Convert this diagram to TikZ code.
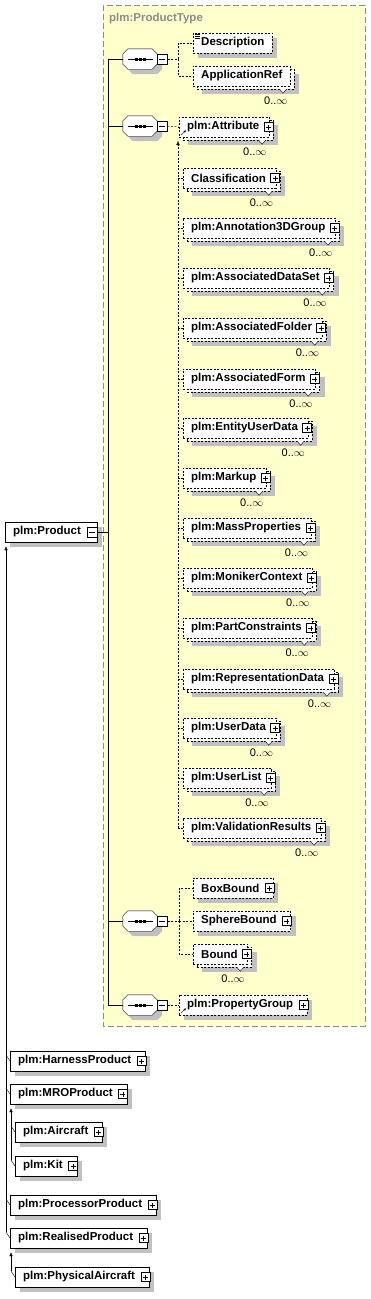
\documentclass[tikz,border=0pt]{standalone}
\usepackage{fontspec}
\setmainfont{Liberation Sans}
\usetikzlibrary{arrows.meta,positioning,shadows}
\definecolor{typebg}{HTML}{FFFFCC}
\definecolor{shade}{HTML}{C0C0C0}
\definecolor{typeline}{HTML}{8C8C8C}
\begin{document}
\begin{tikzpicture}[x=1pt,y=-1pt,font=\fontsize{11.5}{13}\selectfont,
 dsh/.style={dash pattern=on 2pt off 1.5pt},
 elbase/.style={draw,dsh,fill=white,font=\fontsize{11.5}{13}\selectfont\bfseries,anchor=west,inner xsep=8pt,inner ysep=0pt,minimum height=20pt},
 sh/.style={drop shadow={shadow xshift=5pt,shadow yshift=-5pt,fill=shade,opacity=1}},
 el/.style={elbase,sh},
 typ/.style={el,solid},
 pbox/.style={draw,solid,fill=white,minimum size=9pt,inner sep=0pt,
   path picture={\draw ([xshift=2pt]path picture bounding box.west) -- ([xshift=-2pt]path picture bounding box.east)
     ([yshift=-2pt]path picture bounding box.north) -- ([yshift=2pt]path picture bounding box.south);}},
 mbox/.style={draw,solid,fill=white,minimum size=10pt,inner sep=0pt,
   path picture={\draw ([xshift=2pt]path picture bounding box.west) -- ([xshift=-2pt]path picture bounding box.east);}},
 seqn/.style={minimum width=34pt,minimum height=20pt,inner sep=0pt},
 mult/.style={font=\fontsize{11}{12}\selectfont,inner sep=0pt},
 der/.style={-{Latex[length=4pt,width=3.5pt]}}]
\useasboundingbox (0,0) rectangle (371,1299);
% type area
\draw[typeline,fill=typebg,dash pattern=on 6pt off 3pt] (103,5) rectangle (365,1026);
\node[font=\fontsize{11.5}{13}\selectfont\bfseries,text=typeline,anchor=west,inner sep=0pt] (ttl) at (109,19) {plm:ProductType};
% sequences
\node[seqn] (s1) at (140,59) {};
\node[seqn] (s2) at (140,126) {};
\node[seqn] (s3) at (140,921) {};
\node[seqn] (s4) at (140,1005) {};
\foreach \s in {s1,s2,s3,s4}{
  \draw[fill=white,sh] ([xshift=5pt]\s.north west) -- ([xshift=-5pt]\s.north east) -- ([yshift=-5pt]\s.north east)
    -- ([yshift=5pt]\s.south east) -- ([xshift=-5pt]\s.south east) -- ([xshift=5pt]\s.south west)
    -- ([yshift=5pt]\s.south west) -- ([yshift=-5pt]\s.north west) -- cycle;
  \draw ([xshift=5pt]\s.west) -- ([xshift=-4pt]\s.east);
  \foreach \dd in {-4,0,4} \fill ([xshift=\dd pt]\s.center) +(-1.5,-1.5) rectangle +(1.5,1.5);
}
\node[mbox,right=0pt of s1] (m1) {};
\node[mbox,right=0pt of s2] (m2) {};
\node[mbox,right=0pt of s3] (m3) {};
\node[mbox,right=0pt of s4] (m4) {};
\coordinate (sp) at (108,0);
\draw (s1.west) -- (s1.west -| sp) -- (s4.west -| sp) -- (s4.west);
\draw (s2.west -| sp) -- (s2.west); \draw (s3.west -| sp) -- (s3.west);
% product
\node[typ] (prod) at (5,532) {plm:Product\kern8pt};
\node[mbox] (prod-m) at ([xshift=-5pt]prod.east) {};
\draw (prod-m.east) -- (prod-m.east -| sp);
% first sequence
\coordinate (br1) at (178,59);
\node[el] (desc) at (193,43) {Description};
\foreach \k in {1,3,5} \draw[solid] ([shift={(1.5,\k)}]desc.north west) -- ++(5,0);
\node[el,xshift=4pt,yshift=-3pt] (appr-b) at (193,76) {\phantom{ApplicationRef}};
\node[elbase] (appr) at (193,76) {ApplicationRef};
\draw[solid,fill=white] ([xshift=-15pt]appr-b.south east) -- ++(3.5,4) -- ++(3.5,-4);
\node[mult,anchor=north east] (appr-n) at ([shift={(-7,7)}]appr-b.south east) {0..$\infty$};
\draw[dsh] (m1.east) -- (br1) |- (desc.west); \draw[dsh] (br1) |- (appr.west);
% second sequence
\coordinate (br2) at (178,141);
\foreach \nm/\lbl/\xx/\yy in {att/plm:Attribute/179/127, cls/Classification/183/178, ann/plm:Annotation3DGroup/183/228,
  ads/plm:AssociatedDataSet/183/278, afo/plm:AssociatedFolder/183/328, afm/plm:AssociatedForm/183/379,
  eud/plm:EntityUserData/183/428, mku/plm:Markup/183/478, mas/plm:MassProperties/183/528,
  mon/plm:MonikerContext/183/578, pcs/plm:PartConstraints/183/628, rep/plm:RepresentationData/183/679,
  ud/plm:UserData/183/728, ul/plm:UserList/183/778, val/plm:ValidationResults/183/828}{
  \node[el,xshift=4pt,yshift=-3pt] (\nm-b) at (\xx,\yy) {\phantom{\lbl}\kern2pt};
  \node[elbase] (\nm) at (\xx,\yy) {\lbl\kern2pt};
  \node[pbox] (\nm-p) at ([xshift=-1pt]\nm.east) {};
  \draw[solid,fill=white] ([xshift=-15pt]\nm-b.south east) -- ++(3.5,4) -- ++(3.5,-4);
  \node[mult,anchor=north east] (\nm-n) at ([shift={(-7,7)}]\nm-b.south east) {0..$\infty$};
  \draw[dsh] (\nm.west) -- (\nm.west -| br2);
}
\draw[dsh] (m2.east) -- (att.west);
\draw[dsh,der] (val.west -| br2) -- (br2);
\draw[solid,-{Latex[length=2.5pt,width=2.5pt]}] ([shift={(2,-2)}]att.south west) -- ++(5,-5);
% third sequence
\coordinate (br3) at (179,921);
\node[el] (bbx) at (193,888) {BoxBound\kern6pt};
\node[pbox] at ([xshift=-4pt]bbx.east) {};
\node[el] (sbd) at (193,921) {SphereBound\kern6pt};
\node[pbox] at ([xshift=-4pt]sbd.east) {};
\node[el,xshift=4pt,yshift=-3pt] (bnd-b) at (193,954) {\phantom{Bound}\kern2pt};
\node[elbase] (bnd) at (193,954) {Bound\kern2pt};
\node[pbox] at ([xshift=-1pt]bnd.east) {};
\draw[solid,fill=white] ([xshift=-15pt]bnd-b.south east) -- ++(3.5,4) -- ++(3.5,-4);
\node[mult,anchor=north east] (bnd-n) at ([shift={(-7,7)}]bnd-b.south east) {0..$\infty$};
\draw[dsh] (m3.east) -- (br3);
\draw[dsh] (br3) |- (bbx.west); \draw[dsh] (br3) |- (sbd.west); \draw[dsh] (br3) |- (bnd.west);
% fourth sequence
\node[el] (pgp) at (179,1005) {plm:PropertyGroup\kern6pt};
\node[pbox] at ([xshift=-4pt]pgp.east) {};
\draw[solid,-{Latex[length=2.5pt,width=2.5pt]}] ([shift={(2,-2)}]pgp.south west) -- ++(5,-5);
\draw[dsh] (m4.east) -- (pgp.west);
% derived types
\foreach \nm/\lbl/\xx/\yy in {harn/plm:HarnessProduct/10/1061, mro/plm:MROProduct/10/1094, acft/plm:Aircraft/15/1132,
  kit/plm:Kit/15/1166, proc/plm:ProcessorProduct/10/1205, real/plm:RealisedProduct/10/1238, phys/plm:PhysicalAircraft/15/1277}{
  \node[typ] (\nm) at (\xx,\yy) {\lbl\kern6pt};
  \node[pbox] at ([xshift=-4pt]\nm.east) {};
  \draw (\nm.west) -- ++(-4,-6);
}
\coordinate (t0) at ([shift={(1,4)}]prod.south west);
\coordinate (t1) at ([shift={(1,4)}]mro.south west);
\coordinate (t2) at ([shift={(1,4)}]real.south west);
\draw[der] (real.west) ++(-4,-6) -- (t0);
\draw[der] (kit.west) ++(-4,-6) -- (t1);
\draw[der] (phys.west) ++(-4,-6) -- (t2);
\end{tikzpicture}
\end{document}
